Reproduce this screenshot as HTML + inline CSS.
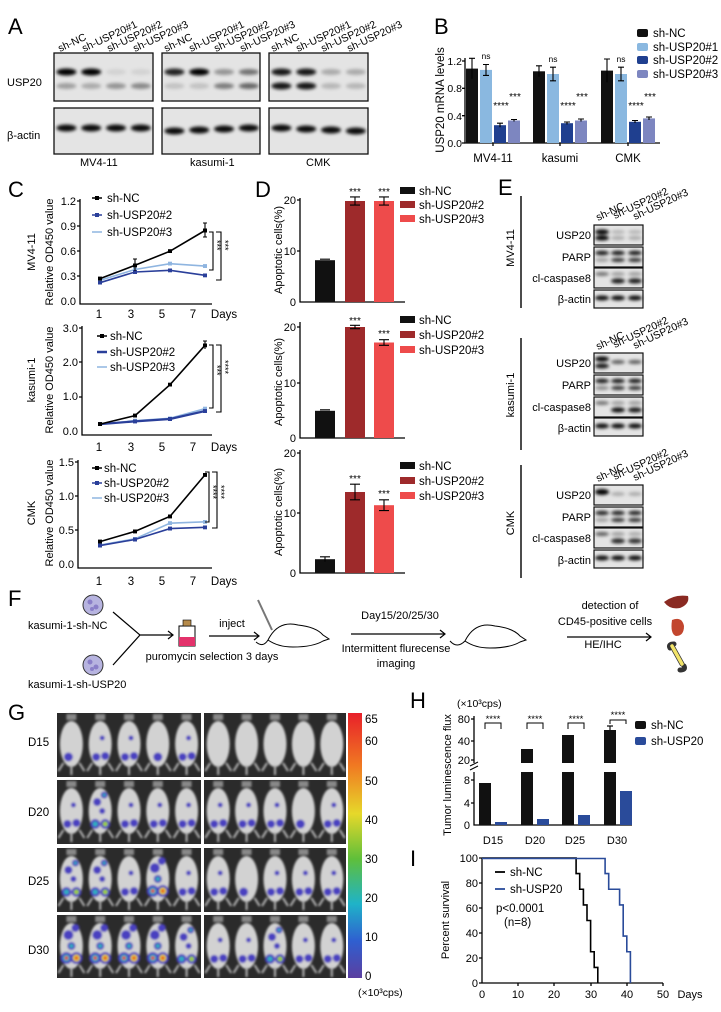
<!DOCTYPE html>
<html><head><meta charset="utf-8">
<style>
html,body{margin:0;padding:0;background:#fff;}
svg{display:block;font-family:"Liberation Sans",Arial,sans-serif;}
</style></head>
<body>
<svg width="721" height="1012" viewBox="0 0 721 1012" xmlns="http://www.w3.org/2000/svg" xmlns:xlink="http://www.w3.org/1999/xlink">
<defs>
<filter id="bl" x="-50%" y="-100%" width="200%" height="300%"><feGaussianBlur stdDeviation="1.5"/></filter>
<filter id="bl2" x="-50%" y="-50%" width="200%" height="200%"><feGaussianBlur stdDeviation="1.1"/></filter>
<linearGradient id="cb" x1="0" y1="0" x2="0" y2="1">
<stop offset="0" stop-color="#e8202a"/><stop offset="0.2" stop-color="#f07a22"/><stop offset="0.38" stop-color="#e6d82a"/><stop offset="0.55" stop-color="#5fbf3a"/><stop offset="0.72" stop-color="#1fb3c8"/><stop offset="0.86" stop-color="#2f5fd0"/><stop offset="1" stop-color="#5b3fa0"/>
</linearGradient>
<marker id="mk" markerWidth="4" markerHeight="4" refX="2" refY="2" markerUnits="userSpaceOnUse"><rect width="4" height="4" fill="#000"/></marker>
<marker id="mb" markerWidth="4" markerHeight="4" refX="2" refY="2" markerUnits="userSpaceOnUse"><rect width="4" height="4" fill="#2a3f9a"/></marker>
<marker id="ml" markerWidth="4" markerHeight="4" refX="2" refY="2" markerUnits="userSpaceOnUse"><rect width="4" height="4" fill="#8fb5e0"/></marker>
<g id="m">
<rect x="-5" y="1" width="10" height="6" fill="#888"/>
<ellipse cx="0" cy="31" rx="11.5" ry="23" fill="#d2d2d2"/>
<path d="M-8,50l-5,8M8,50l5,8M0,52v10" stroke="#b8b8b8" stroke-width="2"/>
</g>
<g id="b1"><circle cx="-3" cy="44" r="4.5" fill="#4a3fc0"/></g>
<g id="b2"><circle cx="-4" cy="44" r="4" fill="#4a3fc0"/><circle cx="5" cy="43" r="4" fill="#4a3fc0"/><circle cx="2" cy="25" r="2.5" fill="#4a3fc0"/></g>
<g id="b3"><circle cx="-5" cy="44" r="5" fill="#4a3fc0"/><circle cx="5" cy="44" r="5" fill="#4a3fc0"/><circle cx="-5" cy="44" r="2.5" fill="#2fb0c0"/><circle cx="5" cy="44" r="2.5" fill="#9fd03a"/><circle cx="-3" cy="22" r="4" fill="#4a3fc0"/><circle cx="4" cy="15" r="3.5" fill="#4a3fc0"/><circle cx="2" cy="31" r="3" fill="#4a3fc0"/><circle cx="4" cy="15" r="1.5" fill="#2fb0c0"/></g>
<g id="b4"><circle cx="-5" cy="43" r="6" fill="#4a3fc0"/><circle cx="5" cy="43" r="6" fill="#4a3fc0"/><circle cx="-5" cy="43" r="3.5" fill="#2fb0c0"/><circle cx="5" cy="43" r="3.5" fill="#e6d82a"/><circle cx="-5" cy="43" r="1.8" fill="#e83a2a"/><circle cx="5" cy="43" r="1.8" fill="#e83a2a"/><circle cx="-3" cy="20" r="5" fill="#4a3fc0"/><circle cx="4" cy="13" r="4" fill="#4a3fc0"/><circle cx="0" cy="31" r="4" fill="#4a3fc0"/><circle cx="0" cy="31" r="2" fill="#2fb0c0"/></g>
</defs>

<!-- ============ A ============ -->
<text x="8" y="34" font-size="22">A</text>
<g font-size="11">
<text x="7" y="86">USP20</text>
<text x="7" y="139">β-actin</text>
<text x="80" y="166">MV4-11</text>
<text x="190" y="166">kasumi-1</text>
<text x="306" y="166">CMK</text>
</g>
<g font-size="10.5">
<text transform="translate(60,52) rotate(-25)">sh-NC</text>
<text transform="translate(84,52) rotate(-25)">sh-USP20#1</text>
<text transform="translate(109,52) rotate(-25)">sh-USP20#2</text>
<text transform="translate(135,52) rotate(-25)">sh-USP20#3</text>
<text transform="translate(166,52) rotate(-25)">sh-NC</text>
<text transform="translate(191,52) rotate(-25)">sh-USP20#1</text>
<text transform="translate(216,52) rotate(-25)">sh-USP20#2</text>
<text transform="translate(242,52) rotate(-25)">sh-USP20#3</text>
<text transform="translate(273,52) rotate(-25)">sh-NC</text>
<text transform="translate(298,52) rotate(-25)">sh-USP20#1</text>
<text transform="translate(323,52) rotate(-25)">sh-USP20#2</text>
<text transform="translate(349,52) rotate(-25)">sh-USP20#3</text>
</g>
<g fill="#e4e4e4"><rect x="54" y="53" width="99" height="48"/><rect x="162" y="53" width="98" height="48"/><rect x="269" y="53" width="99" height="48"/>
<rect x="54" y="108" width="99" height="46"/><rect x="162" y="108" width="98" height="46"/><rect x="269" y="108" width="99" height="46"/></g>
<g filter="url(#bl)" fill="#000">
<ellipse cx="66.4" cy="72" rx="10" ry="3.5"/><ellipse cx="91.2" cy="72" rx="10" ry="3.5"/><ellipse cx="116" cy="72" rx="10" ry="3" fill-opacity=".08"/><ellipse cx="140.8" cy="72" rx="10" ry="3" fill-opacity=".08"/>
<ellipse cx="66.4" cy="86" rx="10" ry="3" fill-opacity=".3"/><ellipse cx="91.2" cy="86" rx="10" ry="3" fill-opacity=".25"/><ellipse cx="116" cy="86" rx="10" ry="3" fill-opacity=".35"/><ellipse cx="140.8" cy="86" rx="10" ry="3" fill-opacity=".4"/>
<ellipse cx="174.4" cy="72" rx="10" ry="3.5" fill-opacity=".85"/><ellipse cx="199.2" cy="72" rx="10" ry="3.5"/><ellipse cx="224" cy="72" rx="10" ry="3" fill-opacity=".35"/><ellipse cx="248.8" cy="72" rx="10" ry="3" fill-opacity=".5"/>
<ellipse cx="174.4" cy="86" rx="10" ry="3" fill-opacity=".15"/><ellipse cx="199.2" cy="86" rx="10" ry="3" fill-opacity=".15"/><ellipse cx="224" cy="86" rx="10" ry="3" fill-opacity=".45"/><ellipse cx="248.8" cy="86" rx="10" ry="3" fill-opacity=".55"/>
<ellipse cx="281.4" cy="72" rx="10" ry="3.5" fill-opacity=".9"/><ellipse cx="306.2" cy="72" rx="10" ry="3.5" fill-opacity=".9"/><ellipse cx="331" cy="72" rx="10" ry="3" fill-opacity=".25"/><ellipse cx="355.8" cy="72" rx="10" ry="3" fill-opacity=".25"/>
<ellipse cx="281.4" cy="86" rx="10" ry="3.5" fill-opacity=".9"/><ellipse cx="306.2" cy="86" rx="10" ry="3.5" fill-opacity=".9"/><ellipse cx="331" cy="86" rx="10" ry="3" fill-opacity=".2"/><ellipse cx="355.8" cy="86" rx="10" ry="3" fill-opacity=".2"/>
<ellipse cx="66.4" cy="128" rx="10" ry="3.5" fill-opacity=".95"/><ellipse cx="91.2" cy="128" rx="10" ry="3.5" fill-opacity=".95"/><ellipse cx="116" cy="128" rx="10" ry="3.5" fill-opacity=".95"/><ellipse cx="140.8" cy="128" rx="10" ry="3.5" fill-opacity=".95"/>
<ellipse cx="174.4" cy="131" rx="10" ry="3.5" fill-opacity=".95"/><ellipse cx="199.2" cy="130" rx="10" ry="3.5" fill-opacity=".95"/><ellipse cx="224" cy="129" rx="10" ry="3.5" fill-opacity=".95"/><ellipse cx="248.8" cy="128" rx="10" ry="3.5" fill-opacity=".95"/>
<ellipse cx="281.4" cy="128" rx="10" ry="3.5" fill-opacity=".95"/><ellipse cx="306.2" cy="129" rx="10" ry="3.5" fill-opacity=".95"/><ellipse cx="331" cy="130" rx="10" ry="3.5" fill-opacity=".95"/><ellipse cx="355.8" cy="131" rx="10" ry="3.5" fill-opacity=".95"/>
</g>
<g fill="none" stroke="#111" stroke-width="1.3"><rect x="54" y="53" width="99" height="48"/><rect x="162" y="53" width="98" height="48"/><rect x="269" y="53" width="99" height="48"/>
<rect x="54" y="108" width="99" height="46"/><rect x="162" y="108" width="98" height="46"/><rect x="269" y="108" width="99" height="46"/></g>

<!-- ============ B ============ -->
<text x="434" y="34" font-size="22">B</text>
<text transform="translate(444,100) rotate(-90)" font-size="11.5" text-anchor="middle">USP20 mRNA levels</text>
<g font-size="10.5" text-anchor="end">
<text x="462" y="65">1.2</text><text x="462" y="92">0.8</text><text x="462" y="120">0.4</text><text x="462" y="147">0.0</text>
</g>
<g stroke="#000" stroke-width="1.3" fill="none">
<path d="M465,58 V143 H660"/>
<path d="M462,61H465M462,88.3H465M462,115.7H465M462,143H465M493,143v3M560,143v3M628,143v3"/>
</g>
<g>
<rect x="466" y="68.6" width="12" height="74.4" fill="#111"/><rect x="480" y="69.9" width="12" height="73.1" fill="#8ab8e0"/><rect x="494" y="125.2" width="12" height="17.8" fill="#1f3f8f"/><rect x="508" y="120.5" width="12" height="22.5" fill="#7d86c0"/>
<rect x="533" y="71.3" width="12" height="71.7" fill="#111"/><rect x="547" y="74" width="12" height="69" fill="#8ab8e0"/><rect x="561" y="123.2" width="12" height="19.8" fill="#1f3f8f"/><rect x="575" y="120.5" width="12" height="22.5" fill="#7d86c0"/>
<rect x="601" y="70.6" width="12" height="72.4" fill="#111"/><rect x="615" y="74" width="12" height="69" fill="#8ab8e0"/><rect x="629" y="121.8" width="12" height="21.2" fill="#1f3f8f"/><rect x="643" y="118.4" width="12" height="24.6" fill="#7d86c0"/>
</g>
<g stroke="#000" stroke-width="1.1" fill="none">
<path d="M472,58.3V78.8M469,58.3h6M486,64.5V75.4M483,64.5h6M483,75.4h6M500,123.2V127.3M497,123.2h6M514,119.5v2M511,119.5h6"/>
<path d="M539,65.8V76.7M536,65.8h6M553,67.2V80.8M550,67.2h6M550,80.8h6M567,122V124.5M564,122h6M581,119v2.5M578,119h6"/>
<path d="M607,59V82.2M604,59h6M621,67.2V80.8M618,67.2h6M618,80.8h6M635,120.5V123M632,120.5h6M649,117V120M646,117h6"/>
</g>
<g font-size="10" text-anchor="middle">
<text x="486" y="59" font-size="8.5">ns</text><text x="553" y="62" font-size="8.5">ns</text><text x="621" y="62" font-size="8.5">ns</text>
<text x="501" y="109">****</text><text x="515" y="100">***</text>
<text x="568" y="109">****</text><text x="582" y="100">***</text>
<text x="636" y="109">****</text><text x="650" y="100">***</text>
</g>
<g font-size="11.5" text-anchor="middle"><text x="493" y="162">MV4-11</text><text x="560" y="162">kasumi</text><text x="628" y="162">CMK</text></g>
<g font-size="11.5">
<rect x="637" y="29" width="11" height="8" rx="2" fill="#111"/><text x="653" y="37">sh-NC</text>
<rect x="637" y="43" width="11" height="8" rx="2" fill="#8ab8e0"/><text x="653" y="51">sh-USP20#1</text>
<rect x="637" y="56" width="11" height="8" rx="2" fill="#1f3f8f"/><text x="653" y="64">sh-USP20#2</text>
<rect x="637" y="70" width="11" height="8" rx="2" fill="#7d86c0"/><text x="653" y="78">sh-USP20#3</text>
</g>

<!-- ============ C ============ -->
<text x="8" y="197" font-size="22">C</text>
<g font-size="11" text-anchor="middle">
<text transform="translate(35,252) rotate(-90)">MV4-11</text>
<text transform="translate(53,252) rotate(-90)">Relative OD450 value</text>
<text transform="translate(35,380) rotate(-90)">kasumi-1</text>
<text transform="translate(53,380) rotate(-90)">Relative OD450 value</text>
<text transform="translate(35,513) rotate(-90)">CMK</text>
<text transform="translate(53,513) rotate(-90)">Relative OD450 value</text>
</g>
<g font-size="11" text-anchor="end">
<text x="76" y="205">1.2</text><text x="76" y="230">0.9</text><text x="76" y="255">0.6</text><text x="76" y="280">0.3</text><text x="76" y="305">0.0</text>
<text x="78" y="332">3.0</text><text x="78" y="366">2.0</text><text x="78" y="400">1.0</text><text x="78" y="435">0.0</text>
<text x="74" y="466">1.5</text><text x="74" y="500">1.0</text><text x="74" y="534">0.5</text><text x="74" y="568">0.0</text>
</g>
<g stroke="#000" stroke-width="1.3" fill="none">
<path d="M80,199V304H212M77,201H80M77,226H80M77,251H80M77,276H80"/>
<path d="M82,326V435H212M79,328H82M79,362H82M79,397H82"/>
<path d="M78,460V568H212M75,462H78M75,496H78M75,530H78"/>
</g>
<g font-size="11.5" text-anchor="middle">
<text x="99" y="318">1</text><text x="131" y="318">3</text><text x="162" y="318">5</text><text x="193" y="318">7</text><text x="224" y="318">Days</text>
<text x="99" y="451">1</text><text x="131" y="451">3</text><text x="162" y="451">5</text><text x="193" y="451">7</text><text x="224" y="451">Days</text>
<text x="99" y="585">1</text><text x="131" y="585">3</text><text x="162" y="585">5</text><text x="193" y="585">7</text><text x="224" y="585">Days</text>
</g>
<g fill="none" stroke-width="1.6">
<path d="M100,280.3L135,269.5L170,263.7L205,266.1" stroke="#8fb5e0" marker-start="url(#ml)" marker-mid="url(#ml)" marker-end="url(#ml)"/>
<path d="M100,282.7L135,272L170,270.3L205,275.3" stroke="#2a3f9a" marker-start="url(#mb)" marker-mid="url(#mb)" marker-end="url(#mb)"/>
<path d="M100,278.6L135,265.3L170,251.2L205,230.5" stroke="#000" marker-start="url(#mk)" marker-mid="url(#mk)" marker-end="url(#mk)"/>
<path d="M100,424.1L135,420.7L170,418.3L205,408.7" stroke="#8fb5e0" marker-start="url(#ml)" marker-mid="url(#ml)" marker-end="url(#ml)"/>
<path d="M100,424.1L135,421.4L170,419L205,411.1" stroke="#2a3f9a" stroke-width="2.2" marker-start="url(#mb)" marker-mid="url(#mb)" marker-end="url(#mb)"/>
<path d="M100,424.1L135,415.6L170,384.7L205,345.3" stroke="#000" marker-start="url(#mk)" marker-mid="url(#mk)" marker-end="url(#mk)"/>
<path d="M100,545L135,538.8L170,523.2L205,521.8" stroke="#8fb5e0" marker-start="url(#ml)" marker-mid="url(#ml)" marker-end="url(#ml)"/>
<path d="M100,545.6L135,539.5L170,528.6L205,527.3" stroke="#2a3f9a" marker-start="url(#mb)" marker-mid="url(#mb)" marker-end="url(#mb)"/>
<path d="M100,541.6L135,531.4L170,516.4L205,474.9" stroke="#000" marker-start="url(#mk)" marker-mid="url(#mk)" marker-end="url(#mk)"/>
</g>
<path d="M205,223v14M203,223h4M203,237h4M135,259v12M133,259h4M205,341v8M203,341h4" stroke="#000" stroke-width="1.1" fill="none"/>
<g font-size="11.5">
<path d="M92,198h10" stroke="#000" stroke-width="1.5"/><rect x="95" y="196" width="4" height="4"/><text x="107" y="202">sh-NC</text>
<path d="M92,215h10" stroke="#2a3f9a" stroke-width="1.5"/><rect x="95" y="213" width="4" height="4" fill="#2a3f9a"/><text x="107" y="219">sh-USP20#2</text>
<path d="M92,232h10" stroke="#8fb5e0" stroke-width="1.5"/><text x="107" y="236">sh-USP20#3</text>
<path d="M97,336h10" stroke="#000" stroke-width="1.5"/><rect x="100" y="334" width="4" height="4"/><text x="110" y="340">sh-NC</text>
<path d="M97,352h10" stroke="#2a3f9a" stroke-width="2.5"/><text x="110" y="356">sh-USP20#2</text>
<path d="M97,367h10" stroke="#8fb5e0" stroke-width="1.5"/><text x="110" y="371">sh-USP20#3</text>
<path d="M92,468h10" stroke="#000" stroke-width="1.5"/><rect x="95" y="466" width="4" height="4"/><text x="104" y="472">sh-NC</text>
<path d="M92,483h10" stroke="#2a3f9a" stroke-width="1.5"/><rect x="95" y="481" width="4" height="4" fill="#2a3f9a"/><text x="104" y="487">sh-USP20#2</text>
<path d="M92,498h10" stroke="#8fb5e0" stroke-width="1.5"/><text x="104" y="502">sh-USP20#3</text>
</g>
<g stroke="#000" stroke-width="1.1" fill="none">
<path d="M209,232h4v38h-4M216,232h5v48h-5"/>
<path d="M209,345h4v63h-4M216,345h5v67h-5"/>
<path d="M205,472h4v50h-4M212,472h5v56h-5"/>
</g>
<g font-size="9">
<text transform="translate(214,240) rotate(90)">***</text><text transform="translate(222,240) rotate(90)">***</text>
<text transform="translate(214,365) rotate(90)">***</text><text transform="translate(222,360) rotate(90)">****</text>
<text transform="translate(210,485) rotate(90)">****</text><text transform="translate(218,485) rotate(90)">****</text>
</g>

<!-- ============ D ============ -->
<text x="255" y="197" font-size="22">D</text>
<g font-size="11" text-anchor="middle">
<text transform="translate(282,250) rotate(-90)">Apoptotic cells(%)</text>
<text transform="translate(282,382) rotate(-90)">Apoptotic cells(%)</text>
<text transform="translate(282,512) rotate(-90)">Apoptotic cells(%)</text>
</g>
<g font-size="11" text-anchor="end">
<text x="296" y="204">20</text><text x="296" y="255">10</text><text x="296" y="306">0</text>
<text x="296" y="331">20</text><text x="296" y="387">10</text><text x="296" y="442">0</text>
<text x="296" y="457">20</text><text x="296" y="517">10</text><text x="296" y="577">0</text>
</g>
<g stroke="#000" stroke-width="1.3" fill="none">
<path d="M300,198V302H405M297,200H300M297,251H300"/>
<path d="M300,322V438H405M297,327H300M297,383H300"/>
<path d="M300,450V573H405M297,453H300M297,513H300"/>
</g>
<g>
<rect x="315" y="260.2" width="20" height="41.8" fill="#111"/><rect x="345" y="201" width="20" height="101" fill="#9e2a2b"/><rect x="374" y="201" width="20" height="101" fill="#ee4b4b"/>
<rect x="315" y="410.8" width="20" height="27.2" fill="#111"/><rect x="345" y="327" width="20" height="111" fill="#9e2a2b"/><rect x="374" y="342.5" width="20" height="95.5" fill="#ee4b4b"/>
<rect x="315" y="559.2" width="20" height="13.8" fill="#111"/><rect x="345" y="492" width="20" height="81" fill="#9e2a2b"/><rect x="374" y="505.2" width="20" height="67.8" fill="#ee4b4b"/>
</g>
<g stroke="#000" stroke-width="1.1" fill="none">
<path d="M355,196.9V205.1M350,196.9h10M350,205.1h10M384,196.9V205.1M379,196.9h10M379,205.1h10M320,259.2h10"/>
<path d="M355,325.3V328.7M350,325.3h10M350,328.7h10M384,339.7V345.3M379,339.7h10M379,345.3h10M320,409.8h10"/>
<path d="M355,484.2V499.8M350,484.2h10M350,499.8h10M384,499.8V510.6M379,499.8h10M379,510.6h10M325,556.8V561.6M320,556.8h10"/>
</g>
<g font-size="10" text-anchor="middle">
<text x="355" y="195">***</text><text x="384" y="195">***</text>
<text x="355" y="324">***</text><text x="384" y="337">***</text>
<text x="355" y="482">***</text><text x="384" y="497">***</text>
</g>
<g font-size="11.5">
<rect x="400" y="187" width="15" height="7" fill="#111"/><text x="419" y="195">sh-NC</text>
<rect x="400" y="201" width="15" height="7" fill="#9e2a2b"/><text x="419" y="209">sh-USP20#2</text>
<rect x="400" y="215" width="15" height="7" fill="#ee4b4b"/><text x="419" y="223">sh-USP20#3</text>
<rect x="400" y="316" width="15" height="7" fill="#111"/><text x="419" y="324">sh-NC</text>
<rect x="400" y="331" width="15" height="7" fill="#9e2a2b"/><text x="419" y="339">sh-USP20#2</text>
<rect x="400" y="346" width="15" height="7" fill="#ee4b4b"/><text x="419" y="354">sh-USP20#3</text>
<rect x="400" y="462" width="15" height="7" fill="#111"/><text x="419" y="470">sh-NC</text>
<rect x="400" y="477" width="15" height="7" fill="#9e2a2b"/><text x="419" y="485">sh-USP20#2</text>
<rect x="400" y="492" width="15" height="7" fill="#ee4b4b"/><text x="419" y="500">sh-USP20#3</text>
</g>

<!-- ============ E ============ -->
<text x="498" y="195" font-size="22">E</text>
<g stroke="#000" stroke-width="1.4"><path d="M521,196V308M521,338V450M521,465V578"/></g>
<g font-size="11" text-anchor="middle">
<text transform="translate(514,248) rotate(-90)">MV4-11</text>
<text transform="translate(514,395) rotate(-90)">kasumi-1</text>
<text transform="translate(514,523) rotate(-90)">CMK</text>
</g>
<g font-size="11" text-anchor="end">
<text x="591" y="239">USP20</text><text x="591" y="261">PARP</text><text x="591" y="282">cl-caspase8</text><text x="591" y="303">β-actin</text>
<text x="591" y="367">USP20</text><text x="591" y="389">PARP</text><text x="591" y="411">cl-caspase8</text><text x="591" y="432">β-actin</text>
<text x="591" y="499">USP20</text><text x="591" y="521">PARP</text><text x="591" y="542">cl-caspase8</text><text x="591" y="564">β-actin</text>
</g>
<g font-size="10.5">
<text transform="translate(598,221) rotate(-25)">sh-NC</text><text transform="translate(615,219) rotate(-25)">sh-USP20#2</text><text transform="translate(635,220) rotate(-25)">sh-USP20#3</text>
<text transform="translate(598,350) rotate(-25)">sh-NC</text><text transform="translate(615,348) rotate(-25)">sh-USP20#2</text><text transform="translate(635,349) rotate(-25)">sh-USP20#3</text>
<text transform="translate(598,482) rotate(-25)">sh-NC</text><text transform="translate(615,480) rotate(-25)">sh-USP20#2</text><text transform="translate(635,481) rotate(-25)">sh-USP20#3</text>
</g>
<g fill="#e4e4e4">
<rect x="594" y="225" width="49" height="20"/><rect x="594" y="247" width="49" height="20"/><rect x="594" y="268" width="49" height="20"/><rect x="594" y="290" width="49" height="18"/>
<rect x="594" y="353" width="49" height="20"/><rect x="594" y="375" width="49" height="20"/><rect x="594" y="397" width="49" height="20"/><rect x="594" y="418" width="49" height="18"/>
<rect x="594" y="485" width="49" height="20"/><rect x="594" y="507" width="49" height="20"/><rect x="594" y="528" width="49" height="20"/><rect x="594" y="550" width="49" height="18"/>
</g>
<g filter="url(#bl)" fill="#000">
<!-- MV4-11 -->
<ellipse cx="602" cy="232" rx="7" ry="2.5"/><ellipse cx="602" cy="238" rx="7" ry="2.5"/><ellipse cx="618" cy="232" rx="7" ry="2" fill-opacity=".2"/><ellipse cx="618" cy="238" rx="7" ry="2" fill-opacity=".25"/><ellipse cx="635" cy="232" rx="7" ry="2" fill-opacity=".2"/><ellipse cx="635" cy="238" rx="7" ry="2" fill-opacity=".25"/>
<ellipse cx="602" cy="253" rx="7" ry="2.2" fill-opacity=".9"/><ellipse cx="602" cy="260" rx="7" ry="2" fill-opacity=".3"/><ellipse cx="618" cy="253" rx="7" ry="2.2" fill-opacity=".9"/><ellipse cx="618" cy="260" rx="7" ry="2" fill-opacity=".8"/><ellipse cx="635" cy="253" rx="7" ry="2.2" fill-opacity=".9"/><ellipse cx="635" cy="260" rx="7" ry="2" fill-opacity=".8"/>
<ellipse cx="602" cy="274" rx="7" ry="2" fill-opacity=".5"/><ellipse cx="618" cy="274" rx="7" ry="2" fill-opacity=".3"/><ellipse cx="618" cy="281" rx="7" ry="2.5" fill-opacity=".9"/><ellipse cx="635" cy="274" rx="7" ry="2" fill-opacity=".3"/><ellipse cx="635" cy="281" rx="7" ry="2.5" fill-opacity=".9"/>
<ellipse cx="602" cy="298" rx="7" ry="2.5" fill-opacity=".95"/><ellipse cx="618" cy="298" rx="7" ry="2.5" fill-opacity=".95"/><ellipse cx="635" cy="298" rx="7" ry="2.5" fill-opacity=".95"/>
<!-- kasumi -->
<ellipse cx="602" cy="359" rx="7" ry="2.5"/><ellipse cx="602" cy="366" rx="7" ry="2.5" fill-opacity=".9"/><ellipse cx="618" cy="362" rx="7" ry="2" fill-opacity=".6"/><ellipse cx="635" cy="362" rx="7" ry="2" fill-opacity=".6"/>
<ellipse cx="602" cy="381" rx="7" ry="2.2" fill-opacity=".9"/><ellipse cx="602" cy="388" rx="7" ry="2" fill-opacity=".4"/><ellipse cx="618" cy="381" rx="7" ry="2.2" fill-opacity=".9"/><ellipse cx="618" cy="388" rx="7" ry="2" fill-opacity=".8"/><ellipse cx="635" cy="381" rx="7" ry="2.2" fill-opacity=".9"/><ellipse cx="635" cy="388" rx="7" ry="2" fill-opacity=".8"/>
<ellipse cx="602" cy="403" rx="7" ry="2" fill-opacity=".5"/><ellipse cx="618" cy="403" rx="7" ry="2" fill-opacity=".3"/><ellipse cx="618" cy="410" rx="7" ry="2.5" fill-opacity=".95"/><ellipse cx="635" cy="403" rx="7" ry="2" fill-opacity=".3"/><ellipse cx="635" cy="410" rx="7" ry="2.5" fill-opacity=".9"/>
<ellipse cx="602" cy="426" rx="7" ry="2.5" fill-opacity=".95"/><ellipse cx="618" cy="426" rx="7" ry="2.5" fill-opacity=".95"/><ellipse cx="635" cy="426" rx="7" ry="2.5" fill-opacity=".95"/>
<!-- CMK -->
<ellipse cx="602" cy="492" rx="7" ry="3"/><ellipse cx="618" cy="494" rx="7" ry="2" fill-opacity=".25"/><ellipse cx="635" cy="494" rx="7" ry="2" fill-opacity=".25"/>
<ellipse cx="602" cy="513" rx="7" ry="2.2" fill-opacity=".85"/><ellipse cx="602" cy="520" rx="7" ry="2" fill-opacity=".3"/><ellipse cx="618" cy="513" rx="7" ry="2.2" fill-opacity=".85"/><ellipse cx="618" cy="520" rx="7" ry="2" fill-opacity=".8"/><ellipse cx="635" cy="513" rx="7" ry="2.2" fill-opacity=".85"/><ellipse cx="635" cy="520" rx="7" ry="2" fill-opacity=".8"/>
<ellipse cx="602" cy="534" rx="7" ry="2" fill-opacity=".6"/><ellipse cx="618" cy="534" rx="7" ry="2" fill-opacity=".3"/><ellipse cx="618" cy="541" rx="7" ry="2.5" fill-opacity=".85"/><ellipse cx="635" cy="534" rx="7" ry="2" fill-opacity=".25"/><ellipse cx="635" cy="541" rx="7" ry="2.5" fill-opacity=".8"/>
<ellipse cx="602" cy="558" rx="7" ry="2.5" fill-opacity=".95"/><ellipse cx="618" cy="558" rx="7" ry="2.5" fill-opacity=".95"/><ellipse cx="635" cy="558" rx="7" ry="2.5" fill-opacity=".95"/>
</g>
<g fill="none" stroke="#111" stroke-width="1.2">
<rect x="594" y="225" width="49" height="20"/><rect x="594" y="247" width="49" height="20"/><rect x="594" y="268" width="49" height="20"/><rect x="594" y="290" width="49" height="18"/>
<rect x="594" y="353" width="49" height="20"/><rect x="594" y="375" width="49" height="20"/><rect x="594" y="397" width="49" height="20"/><rect x="594" y="418" width="49" height="18"/>
<rect x="594" y="485" width="49" height="20"/><rect x="594" y="507" width="49" height="20"/><rect x="594" y="528" width="49" height="20"/><rect x="594" y="550" width="49" height="18"/>
</g>

<!-- ============ F ============ -->
<text x="8" y="606" font-size="22">F</text>
<g stroke="#333" stroke-width="1" fill="#b7b4e0"><circle cx="93" cy="605" r="10"/><circle cx="93" cy="665" r="10"/></g>
<g fill="#8a7fc8"><circle cx="90" cy="602" r="2.5"/><circle cx="96" cy="607" r="2.5"/><circle cx="92" cy="609" r="2"/><circle cx="90" cy="662" r="2.5"/><circle cx="96" cy="667" r="2.5"/><circle cx="92" cy="669" r="2"/></g>
<g font-size="11"><text x="28" y="629">kasumi-1-sh-NC</text><text x="28" y="688">kasumi-1-sh-USP20</text></g>
<g stroke="#000" stroke-width="1.2" fill="none">
<path d="M113,612L140,635L113,665M140,635H172"/><path d="M168,631l5,4l-5,4"/>
<path d="M209,636H258"/><path d="M254,632l5,4l-5,4"/>
<path d="M351,634H444"/><path d="M440,630l5,4l-5,4"/>
<path d="M567,637H650"/><path d="M646,633l5,4l-5,4"/>
</g>
<rect x="179" y="626" width="16" height="20" fill="#fff" stroke="#000"/><rect x="179" y="637" width="16" height="9" fill="#e3326b"/><rect x="183" y="620" width="8" height="6" fill="#b58a4a" stroke="#000" stroke-width="0.6"/>
<g stroke="#000" stroke-width="1" fill="none">
<path d="M268,640 q10,-20 30,-15 q18,2 25,10 l6,4 -6,2 q-10,6 -30,6 q-15,0 -25,-7 q-5,8 -12,2"/>
<path d="M465,641 q10,-20 30,-15 q18,2 25,10 l6,4 -6,2 q-10,6 -30,6 q-15,0 -25,-7 q-8,8 -15,0"/>
<path d="M258,600 L272,630" stroke="#777" stroke-width="2"/>
</g>
<g font-size="11" text-anchor="middle">
<text x="232" y="627">inject</text>
<text x="212" y="660">puromycin selection 3 days</text>
<text x="400" y="619">Day15/20/25/30</text>
<text x="396" y="652">Intermittent flurecense</text>
<text x="396" y="667">imaging</text>
<text x="610" y="609">detection of</text>
<text x="605" y="625">CD45-positive cells</text>
<text x="603" y="648">HE/IHC</text>
</g>
<path d="M664,602 q10,-8 24,-6 q2,8 -8,12 q-10,2 -16,-6z" fill="#8a2a22"/>
<path d="M672,620 q10,-4 12,6 q0,10 -8,10 q-6,-2 -4,-16z" fill="#c2462e"/>
<path d="M672,646 l10,18 M670,648 q-2,-4 4,-4 M684,666 q2,4 -4,4" stroke="#333" stroke-width="5" fill="none" stroke-linecap="round"/>
<path d="M672,646 l10,18" stroke="#f2e46a" stroke-width="3.5" fill="none" stroke-linecap="round"/>

<!-- ============ G ============ -->
<text x="8" y="720" font-size="22">G</text>
<g font-size="11.5"><text x="28" y="746">D15</text><text x="28" y="816">D20</text><text x="28" y="885">D25</text><text x="28" y="954">D30</text></g>
<g fill="#2b2b2b">
<rect x="57" y="713" width="144" height="64"/><rect x="204" y="713" width="142" height="64"/>
<rect x="57" y="780" width="144" height="64"/><rect x="204" y="780" width="142" height="64"/>
<rect x="57" y="848" width="144" height="64"/><rect x="204" y="848" width="142" height="64"/>
<rect x="57" y="915" width="144" height="63"/><rect x="204" y="915" width="142" height="63"/>
</g>
<g filter="url(#bl2)">
<use xlink:href="#m" x="71.4" y="713"/><use xlink:href="#m" x="100.2" y="713"/><use xlink:href="#m" x="129" y="713"/><use xlink:href="#m" x="157.8" y="713"/><use xlink:href="#m" x="186.6" y="713"/>
<use xlink:href="#m" x="218.2" y="713"/><use xlink:href="#m" x="246.6" y="713"/><use xlink:href="#m" x="275" y="713"/><use xlink:href="#m" x="303.4" y="713"/><use xlink:href="#m" x="331.8" y="713"/>
<use xlink:href="#m" x="71.4" y="780"/><use xlink:href="#m" x="100.2" y="780"/><use xlink:href="#m" x="129" y="780"/><use xlink:href="#m" x="157.8" y="780"/><use xlink:href="#m" x="186.6" y="780"/>
<use xlink:href="#m" x="218.2" y="780"/><use xlink:href="#m" x="246.6" y="780"/><use xlink:href="#m" x="275" y="780"/><use xlink:href="#m" x="303.4" y="780"/><use xlink:href="#m" x="331.8" y="780"/>
<use xlink:href="#m" x="71.4" y="848"/><use xlink:href="#m" x="100.2" y="848"/><use xlink:href="#m" x="129" y="848"/><use xlink:href="#m" x="157.8" y="848"/><use xlink:href="#m" x="186.6" y="848"/>
<use xlink:href="#m" x="218.2" y="848"/><use xlink:href="#m" x="246.6" y="848"/><use xlink:href="#m" x="275" y="848"/><use xlink:href="#m" x="303.4" y="848"/><use xlink:href="#m" x="331.8" y="848"/>
<use xlink:href="#m" x="71.4" y="915"/><use xlink:href="#m" x="100.2" y="915"/><use xlink:href="#m" x="129" y="915"/><use xlink:href="#m" x="157.8" y="915"/><use xlink:href="#m" x="186.6" y="915"/>
<use xlink:href="#m" x="218.2" y="915"/><use xlink:href="#m" x="246.6" y="915"/><use xlink:href="#m" x="275" y="915"/><use xlink:href="#m" x="303.4" y="915"/><use xlink:href="#m" x="331.8" y="915"/>
<!-- blobs -->
<use xlink:href="#b1" x="71.4" y="713"/><use xlink:href="#b2" x="100.2" y="713"/><use xlink:href="#b2" x="129" y="713"/><use xlink:href="#b1" x="160.8" y="713"/><use xlink:href="#b2" x="186.6" y="713"/>
<use xlink:href="#b2" x="71.4" y="780"/><use xlink:href="#b3" x="100.2" y="780"/><use xlink:href="#b2" x="129" y="780"/><use xlink:href="#b2" x="157.8" y="780"/><use xlink:href="#b2" x="186.6" y="780"/>
<use xlink:href="#b2" x="218.2" y="780"/><use xlink:href="#b2" x="246.6" y="780"/><use xlink:href="#b2" x="275" y="780"/><use xlink:href="#b1" x="303.4" y="780"/><use xlink:href="#b2" x="331.8" y="780"/>
<use xlink:href="#b3" x="71.4" y="848"/><use xlink:href="#b3" x="100.2" y="848"/><use xlink:href="#b2" x="129" y="848"/><use xlink:href="#b4" x="157.8" y="848"/><use xlink:href="#b2" x="186.6" y="848"/>
<use xlink:href="#b2" x="218.2" y="848"/><use xlink:href="#b1" x="246.6" y="848"/><use xlink:href="#b2" x="275" y="848"/><use xlink:href="#b2" x="303.4" y="848"/><use xlink:href="#b2" x="331.8" y="848"/>
<use xlink:href="#b4" x="71.4" y="915"/><use xlink:href="#b4" x="100.2" y="915"/><use xlink:href="#b4" x="129" y="915"/><use xlink:href="#b4" x="157.8" y="915"/><use xlink:href="#b3" x="186.6" y="915"/>
<use xlink:href="#b2" x="218.2" y="915"/><use xlink:href="#b2" x="246.6" y="915"/><use xlink:href="#b3" x="275" y="915"/><use xlink:href="#b2" x="303.4" y="915"/><use xlink:href="#b2" x="331.8" y="915"/>
</g>
<rect x="348" y="713" width="14" height="265" fill="url(#cb)"/>
<g font-size="11.5"><text x="365" y="723">65</text><text x="365" y="745">60</text><text x="365" y="785">50</text><text x="365" y="824">40</text><text x="365" y="863">30</text><text x="365" y="902">20</text><text x="365" y="941">10</text><text x="365" y="980">0</text>
<text x="358" y="996" font-size="10.5">(×10³cps)</text></g>

<!-- ============ H ============ -->
<text x="410" y="708" font-size="22">H</text>
<text x="457" y="707" font-size="10.5">(×10³cps)</text>
<text transform="translate(451,775) rotate(-90)" font-size="11" text-anchor="middle">Tumor luminescence flux</text>
<g font-size="11" text-anchor="end"><text x="470" y="723">80</text><text x="470" y="745">40</text><text x="470" y="764">20</text><text x="470" y="784">8</text><text x="470" y="807">4</text><text x="470" y="829">0</text></g>
<g stroke="#000" stroke-width="1.3" fill="none">
<path d="M474,716V763M474,772V825H632M471,719h3M471,741h3M471,760h3M471,780h3M471,803h3"/>
<path d="M470,766l8,-4M470,770l8,-4" stroke-width="1"/>
</g>
<g>
<rect x="479" y="783" width="12" height="42" fill="#111"/><rect x="495" y="822" width="12" height="3" fill="#2a4b9a"/>
<rect x="521" y="749" width="12" height="14" fill="#111"/><rect x="521" y="772" width="12" height="53" fill="#111"/><rect x="537" y="819" width="12" height="6" fill="#2a4b9a"/>
<rect x="562" y="735" width="12" height="28" fill="#111"/><rect x="562" y="772" width="12" height="53" fill="#111"/><rect x="578" y="815" width="12" height="10" fill="#2a4b9a"/>
<rect x="604" y="730" width="12" height="33" fill="#111"/><rect x="604" y="772" width="12" height="53" fill="#111"/><rect x="620" y="791" width="12" height="34" fill="#2a4b9a"/>
<path d="M610,730v-4M607,726h6" stroke="#111" stroke-width="1.2"/>
</g>
<g stroke="#000" stroke-width="1" fill="none"><path d="M485,729v-6h16v6M527,729v-6h16v6M568,729v-6h16v6M610,724v-4h16v4"/></g>
<g font-size="9.5" text-anchor="middle"><text x="493" y="722">****</text><text x="535" y="722">****</text><text x="576" y="722">****</text><text x="618" y="718">****</text></g>
<g font-size="11" text-anchor="middle"><text x="493" y="844">D15</text><text x="535" y="844">D20</text><text x="575" y="844">D25</text><text x="617" y="844">D30</text></g>
<g font-size="11.5"><rect x="635" y="721" width="11" height="8" rx="2" fill="#111"/><text x="651" y="729">sh-NC</text>
<rect x="635" y="737" width="11" height="8" rx="2" fill="#2a4b9a"/><text x="651" y="745">sh-USP20</text></g>

<!-- ============ I ============ -->
<text x="410" y="866" font-size="22">I</text>
<text transform="translate(449,920) rotate(-90)" font-size="11" text-anchor="middle">Percent survival</text>
<g font-size="11" text-anchor="end"><text x="478" y="862">100</text><text x="478" y="887">80</text><text x="478" y="912">60</text><text x="478" y="937">40</text><text x="478" y="962">20</text><text x="478" y="987">0</text></g>
<g stroke="#000" stroke-width="1.3" fill="none">
<path d="M482,858V983H663M479,858h3M479,883h3M479,908h3M479,933h3M479,958h3M479,983h3M518,983v3M554,983v3M591,983v3M627,983v3M663,983v3"/>
</g>
<g font-size="11" text-anchor="middle"><text x="482" y="998">0</text><text x="518" y="998">10</text><text x="554" y="998">20</text><text x="591" y="998">30</text><text x="627" y="998">40</text><text x="663" y="998">50</text><text x="690" y="998">Days</text></g>
<path d="M482,858H576.1V873.6H579.7V889.25H583.4V904.9H587V920.5H590.6V951.75H594.2V967.4H597.8V983" stroke="#000" stroke-width="1.6" fill="none"/>
<path d="M482,858.5H605.1V873.6H608.7V889.25H619.6V904.9H623.2V936.1H626.8V951.75H630.4V983" stroke="#2a4b9a" stroke-width="1.6" fill="none"/>
<g font-size="11.5">
<path d="M495,872h10" stroke="#000" stroke-width="1.8"/><text x="510" y="876">sh-NC</text>
<path d="M495,889h10" stroke="#2a4b9a" stroke-width="1.8"/><text x="510" y="893">sh-USP20</text>
<text x="496" y="912">p&lt;0.0001</text><text x="504" y="926">(n=8)</text>
</g>
</svg>
</body></html>
